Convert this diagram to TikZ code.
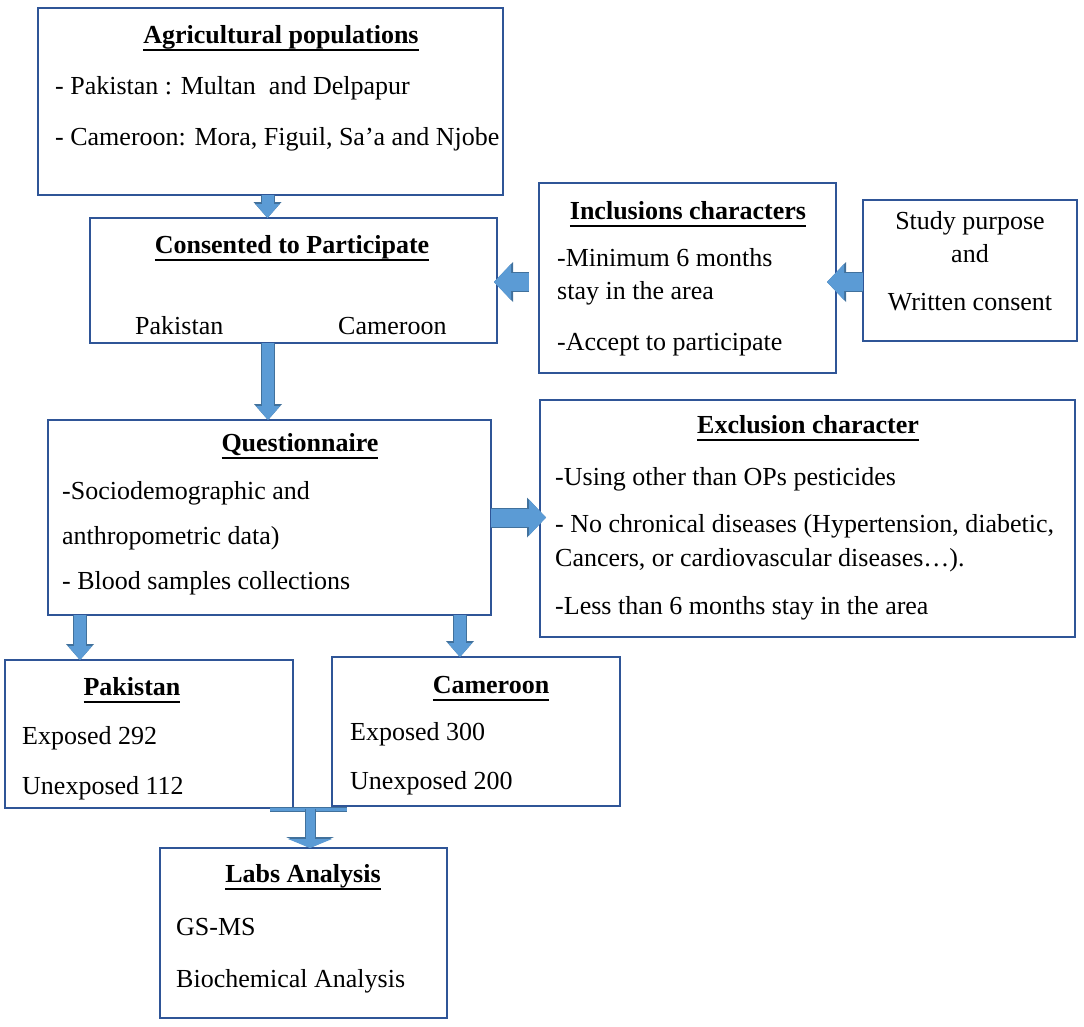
\documentclass[tikz,border=0pt]{standalone}
\usepackage{fontspec}
\setmainfont{Liberation Serif}
\usepackage{tikz}
\usetikzlibrary{arrows.meta,calc}

\definecolor{boxblue}{HTML}{2F5597}
\definecolor{arrowblue}{HTML}{5B9BD5}
\definecolor{arrowedge}{HTML}{41719C}

% thick underline as in the titles
\newcommand{\uln}[1]{\setbox0\hbox{#1}\hbox{\rlap{\vrule height -6pt depth 8pt width \wd0}\box0}}

\tikzset{
	box/.style={draw=boxblue, line width=2pt, rectangle, inner sep=0pt, outer sep=0pt},
	txt/.style={anchor=base west, inner sep=0pt, font=\fontsize{26}{31}\selectfont},
	mid/.style={anchor=base, inner sep=0pt, font=\fontsize{26}{31}\selectfont},
	ttl/.style={anchor=base, inner sep=0pt, font=\fontsize{26}{31}\selectfont\bfseries},
	vfat/.style={draw=arrowblue, line width=12pt, -{Triangle[length=14pt,width=24pt,line width=0pt]},
		preaction={draw=arrowedge, line width=14pt, -{Triangle[length=16pt,width=28pt,line width=0pt]}}},
	hfat/.style={draw=arrowblue, line width=18pt, -{Triangle[length=17pt,width=36pt,line width=0pt]},
		preaction={draw=arrowedge, line width=20pt, -{Triangle[length=19pt,width=40pt,line width=0pt]}}},
	tfat/.style={draw=arrowblue, line width=9pt, -{Triangle[length=9pt,width=44pt,line width=0pt]},
		preaction={draw=arrowedge, line width=11pt, -{Triangle[length=11pt,width=48pt,line width=0pt]}}}
}

\begin{document}
\begin{tikzpicture}[x=1pt,y=-1pt]
	\useasboundingbox (0,0) rectangle (1084,1026);

	% boxes
	\node[box, minimum width=465, minimum height=187] (agri)  at (270.5,101.5) {};
	\node[box, minimum width=407, minimum height=125] (cons)  at (293.5,280.5) {};
	\node[box, minimum width=297, minimum height=190] (incl)  at (687.5,278)   {};
	\node[box, minimum width=214, minimum height=141] (study) at (970,270.5)   {};
	\node[box, minimum width=443, minimum height=195] (quest) at (269.5,517.5) {};
	\node[box, minimum width=535, minimum height=237] (excl)  at (807.5,518.5) {};
	\node[box, minimum width=288, minimum height=148] (pak)   at (149,734)     {};
	\node[box, minimum width=288, minimum height=149] (cam)   at (476,731.5)   {};
	\node[box, minimum width=287, minimum height=170] (labs)  at (303.5,933)   {};

	% texts
	\node[ttl] (agriT) at (281,43)  {\uln{Agricultural populations}};
	\node[txt] (agriA) at (55,94)   {- Pakistan : Multan\ \ and Delpapur};
	\node[txt] (agriB) at (55,145)  {- Cameroon: Mora, Figuil, Sa’a and Njobe};

	\node[ttl] (consT) at (292,253) {\uln{Consented to Participate}};
	\node[txt] (consA) at (135,334) {Pakistan};
	\node[txt] (consB) at (338,334) {Cameroon};

	\node[ttl] (inclT) at (688,219) {\uln{Inclusions characters}};
	\node[txt] (inclA) at (557,266) {-Minimum 6 months};
	\node[txt] (inclB) at (557,299) {stay in the area};
	\node[txt] (inclC) at (557,350) {-Accept to participate};

	\node[mid] (studyA) at (970,229) {Study purpose};
	\node[mid] (studyB) at (970,262) {and};
	\node[mid] (studyC) at (970,310) {Written consent};

	\node[ttl] (questT) at (300,451) {\uln{Questionnaire}};
	\node[txt] (questA) at (62,499)  {-Sociodemographic and};
	\node[txt] (questB) at (62,544)  {anthropometric data)};
	\node[txt] (questC) at (62,589)  {- Blood samples collections};

	\node[ttl] (exclT) at (808,433) {\uln{Exclusion character}};
	\node[txt] (exclA) at (555,485) {-Using other than OPs pesticides};
	\node[txt] (exclB) at (555,532) {- No chronical diseases (Hypertension, diabetic,};
	\node[txt] (exclC) at (555,566) {Cancers, or cardiovascular diseases…).};
	\node[txt] (exclD) at (555,614) {-Less than 6 months stay in the area};

	\node[ttl] (pakT) at (132,695) {\uln{Pakistan}};
	\node[txt] (pakA) at (22,744)  {Exposed 292};
	\node[txt] (pakB) at (22,794)  {Unexposed 112};

	\node[ttl] (camT) at (491,693) {\uln{Cameroon}};
	\node[txt] (camA) at (350,740) {Exposed 300};
	\node[txt] (camB) at (350,789) {Unexposed 200};

	\node[ttl] (labsT) at (303,882) {\uln{Labs Analysis}};
	\node[txt] (labsA) at (176,935) {GS-MS};
	\node[txt] (labsB) at (176,987) {Biochemical Analysis};

	% block arrows
	\coordinate (a1) at ($(agri.south)+(-3,0)$);
	\draw[vfat] (a1) -- (a1 |- cons.north);
	\coordinate (a2) at ($(cons.south)+(-25.5,0)$);
	\draw[vfat] (a2) -- (a2 |- quest.north);
	\coordinate (a3) at ($(incl.west)+(-10,4)$);
	\draw[hfat, shorten >=-3pt] (a3) -- (a3 -| cons.east);
	\coordinate (a4) at ($(study.west)+(0,11.5)$);
	\draw[hfat, shorten >=-9pt] (a4) -- (a4 -| incl.east);
	\draw[hfat, shorten >=-6pt] (quest.east) -- (quest.east -| excl.west);
	\coordinate (a5) at ($(quest.south west)+(32,0)$);
	\draw[vfat] (a5) -- (a5 |- pak.north);
	\coordinate (a6) at ($(quest.south east)+(-31,0)$);
	\draw[vfat] (a6) -- (a6 |- cam.north);

	% join to the labs
	\coordinate (teeL) at ($(pak.south east)+(-23,1)$);
	\coordinate (teeR) at ($(cam.south west)+(15,3)$);
	\draw[draw=arrowedge, line width=5pt] (teeL) -- (teeR);
	\draw[draw=arrowblue, line width=3pt] (teeL) -- (teeR);
	\coordinate (teeM) at ($(teeL)!0.52!(teeR)$);
	\draw[tfat] (teeM) -- (teeM |- labs.north);
\end{tikzpicture}
\end{document}
